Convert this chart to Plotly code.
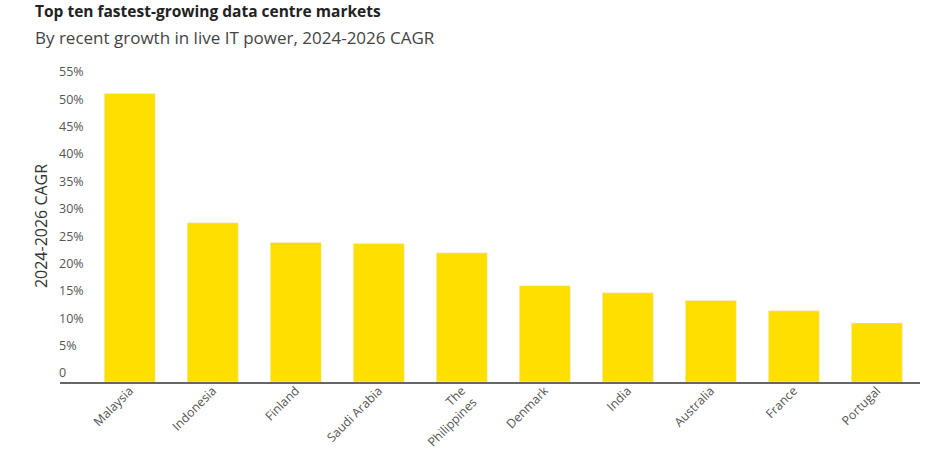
import plotly.graph_objects as go

markets = ["Malaysia", "Indonesia", "Finland", "Saudi Arabia", "The<br>Philippines",
           "Denmark", "India", "Australia", "France", "Portugal"]
cagr = [52.7, 29.1, 25.5, 25.3, 23.6, 17.6, 16.3, 14.9, 13.0, 10.8]

y_ticks = [0, 5, 10, 15, 20, 25, 30, 35, 40, 45, 50, 55]
y_tick_labels = ["0", "5%", "10%", "15%", "20%", "25%", "30%", "35%", "40%", "45%", "50%", "55%"]

font = "Open Sans, sans-serif"

fig = go.Figure(go.Bar(x=markets, y=cagr, marker_color="#FFDF00", width=0.614))

fig.update_layout(
    width=932, height=450,
    margin=dict(l=60, r=12, t=70, b=68),
    plot_bgcolor="white", paper_bgcolor="white",
    font=dict(family=font, color="#444", size=12),
    showlegend=False,
    annotations=[
        dict(text="<b>Top ten fastest-growing data centre markets</b>", xref="paper", yref="paper",
             x=-0.0314, y=1.148, xanchor="left", yanchor="bottom", showarrow=False,
             font=dict(size=15.5, color="#222")),
        dict(text="By recent growth in live IT power, 2024-2026 CAGR", xref="paper", yref="paper",
             x=-0.0314, y=1.148, xanchor="left", yanchor="top", showarrow=False,
             font=dict(size=17, color="#444")),
    ],
)
fig.update_xaxes(range=[-0.84, 9.52], showline=True, linecolor="#666", linewidth=1.5,
                 ticks="", tickangle=-45, automargin=False, ticklabelstandoff=-5,
                 tickfont=dict(size=12.3, color="#555"))
fig.update_yaxes(range=[0, 57], tickvals=y_ticks, ticktext=y_tick_labels, showgrid=False,
                 zeroline=False, ticklabelposition="inside", ticklabelshift=-9,
                 ticklabelstandoff=-4, ticklabeloverflow="allow", automargin=False,
                 tickfont=dict(size=12.5, color="#555"),
                 title=dict(text="2024-2026 CAGR", standoff=7, font=dict(size=16, color="#333")))

# drop the page's default body margin so the figure sits at the window corner
fig.write_html("out.html", config={"displayModeBar": False},
               post_script="document.body.style.margin='0';")
